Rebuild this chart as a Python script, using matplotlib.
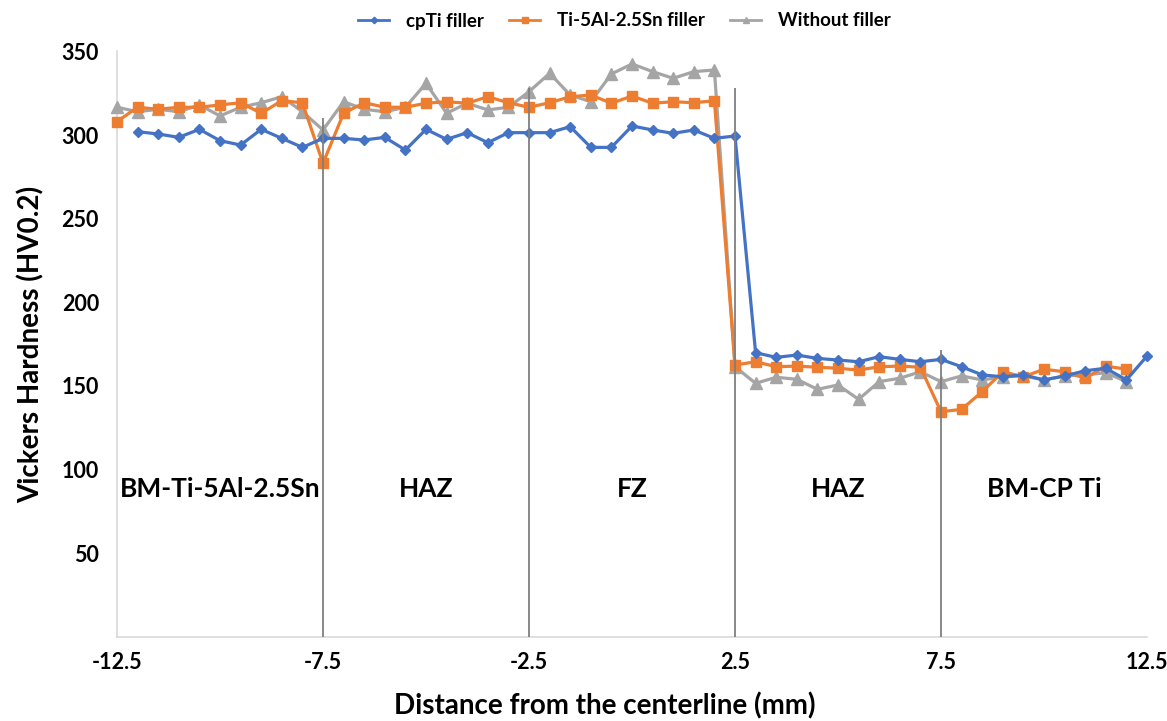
import matplotlib
matplotlib.use("Agg")
import matplotlib.pyplot as plt
import numpy as np

plt.rcParams['font.family'] = ['Lato', 'DejaVu Sans']

# ---------------- data ----------------
x_cpti = np.arange(-12.0, 12.51, 0.5)
cpti = [302.0, 300.6, 298.6, 303.4, 296.6, 294.0, 303.4, 298.0, 292.6, 298.0,
        298.0, 297.0, 298.6, 291.0, 303.4, 297.4, 301.4, 295.4, 301.4, 301.4,
        301.4, 305.0, 292.6, 292.6, 305.4, 303.0, 301.0, 303.0, 298.0, 299.4,
        169.8, 167.0, 168.4, 166.4, 165.4, 164.4, 167.4, 165.8, 164.4, 165.8,
        161.4, 156.5, 155.4, 156.5, 153.5, 155.9, 159.0, 160.5, 153.5, 167.8]

x_ti5 = np.arange(-12.5, 12.01, 0.5)
ti5 = [308.0, 316.6, 315.4, 316.6, 316.6, 318.0, 319.3, 313.0, 320.5, 319.3,
       283.1, 313.0, 319.3, 316.6, 316.6, 319.0, 319.9, 319.0, 322.9, 319.3,
       316.6, 319.3, 322.9, 323.9, 319.0, 323.3, 319.0, 319.9, 319.3, 320.5,
       162.4, 164.4, 161.4, 161.8, 161.1, 160.5, 159.4, 161.4, 161.8, 161.1,
       134.5, 135.9, 146.5, 158.4, 155.4, 159.9, 158.4, 154.5, 161.8, 159.9]

x_nof = np.arange(-12.5, 12.01, 0.5)
nofill = [316.6, 313.9, 315.4, 313.9, 318.0, 311.4, 316.6, 319.3, 322.9, 313.9,
          303.0, 319.9, 315.4, 313.9, 316.6, 330.9, 313.0, 319.0, 315.0, 316.6,
          325.9, 336.9, 323.9, 319.9, 336.5, 342.5, 337.9, 333.9, 337.9, 338.9,
          161.4, 151.5, 155.1, 153.9, 147.9, 150.5, 141.9, 152.5, 154.5, 158.4,
          152.5, 155.9, 153.5, 155.4, 155.9, 153.5, 155.9, 156.5, 157.8, 152.5]

# zone boundaries and the height where each boundary line starts
zone_x = [-7.5, -2.5, 2.5, 7.5]
zone_top = [310, 328, 328, 171.5]
zone_labels = ["BM-Ti-5Al-2.5Sn", "HAZ", "FZ", "HAZ", "BM-CP Ti"]
zone_label_x = [-10.0, -5.0, 0.0, 5.0, 10.0]
zone_label_y = 88

xticks = [-12.5, -7.5, -2.5, 2.5, 7.5, 12.5]
yticks = [50, 100, 150, 200, 250, 300, 350]

# ---------------- figure ----------------
fig = plt.figure(figsize=(11.67, 7.21), dpi=100)
ax = fig.add_axes([117/1167, 84.4/721, 1030/1167, 585.2/721])

blue, orange, gray = '#4472C4', '#ED7D31', '#A5A5A5'

ax.plot(x_nof, nofill, color=gray, lw=2.3, marker='^', ms=8,
        label='Without filler', clip_on=False, zorder=3)
ax.plot(x_ti5, ti5, color=orange, lw=2.3, marker='s', ms=7.5,
        label='Ti-5Al-2.5Sn filler', clip_on=False, zorder=4)
ax.plot(x_cpti, cpti, color=blue, lw=2.3, marker='D', ms=5.5,
        label='cpTi filler', clip_on=False, zorder=5)

for xv, top in zip(zone_x, zone_top):
    ax.vlines(xv, 0, top, color='#7F7F7F', lw=1.3, zorder=6)

for lab, xv in zip(zone_labels, zone_label_x):
    ax.text(xv, zone_label_y, lab, ha='center', va='center',
            fontsize=19, fontweight='bold', color='black', zorder=7)

ax.set_xlim(-12.5, 12.5)
ax.set_ylim(0, 350)
ax.set_xticks(xticks)
ax.set_xticklabels([f"{v}" for v in xticks])
ax.set_yticks(yticks)
ax.tick_params(axis='both', length=0, labelsize=15.5)
ax.tick_params(axis='x', pad=11)
ax.tick_params(axis='y', pad=13)
for lbl in ax.get_xticklabels() + ax.get_yticklabels():
    lbl.set_fontweight('bold')

for s in ['top', 'right']:
    ax.spines[s].set_visible(False)
for s in ['left', 'bottom']:
    ax.spines[s].set_color('#D9D9D9')
    ax.spines[s].set_linewidth(1.2)

ax.set_xlabel('Distance from the centerline (mm)', fontsize=20,
              fontweight='bold')
ax.xaxis.set_label_coords(0.474, -0.095)
ax.set_ylabel('Vickers Hardness (HV0.2)', fontsize=20,
              fontweight='bold', labelpad=12)

h, l = ax.get_legend_handles_labels()
order = [2, 1, 0]
leg = fig.legend([h[i] for i in order], [l[i] for i in order],
                 loc='center', bbox_to_anchor=(0.535, 1 - 21/721), ncol=3,
                 frameon=False, fontsize=13.5, handlelength=1.7,
                 columnspacing=1.3, handletextpad=0.9, markerscale=0.6,
                 borderpad=0)
for t in leg.get_texts():
    t.set_fontweight('bold')
for ln in leg.get_lines():
    ln.set_linewidth(2.0)

fig.savefig('out.png', dpi=100)
